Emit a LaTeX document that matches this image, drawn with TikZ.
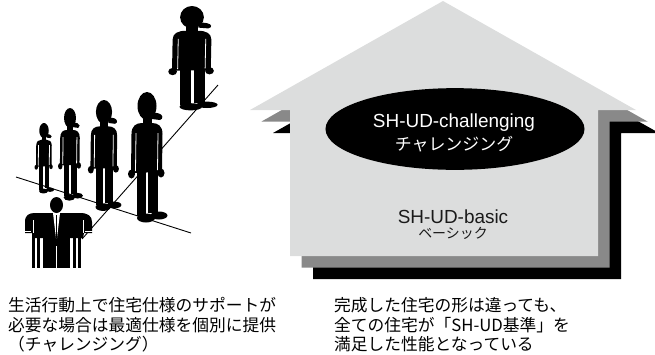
\documentclass[tikz,border=0pt]{standalone}
\usepackage{fontspec}
\usetikzlibrary{shapes.geometric}
\setmainfont{Liberation Sans}
\newfontfamily\cjk{Noto Sans CJK JP}
\definecolor{houselight}{HTML}{DCDDDD}
\definecolor{housemid}{HTML}{898989}
\definecolor{textdark}{HTML}{1A1A1A}
\tikzset{
  % one house outline, peak at the origin of the pic
  housebody/.pic={
    \fill (0,0) -- (193,109) -- (155,109) -- (155,255) -- (-153,255)
      -- (-153,109) -- (-193,109) -- cycle;
  },
  % a standing figure with a cap, head top at the origin, 130 units tall
  person/.pic={
    \fill (-10,76) rectangle (-1.2,124);
    \fill (1.2,76) rectangle (10.5,121);
    \fill (-1,126) ellipse [x radius=9, y radius=4.5];
    \fill (12,123.5) ellipse [x radius=8.5, y radius=4];
    \fill (-15.5,42) .. controls (-15.5,34) and (-11,31) .. (-5,31) -- (5,31)
      .. controls (11,31) and (15.5,34) .. (15.5,42) -- (15,80) -- (-16,81) -- cycle;
    \fill (-4.5,24) rectangle (4.5,33);
    \fill (0,14) ellipse [x radius=9.5, y radius=14];
    \fill (5,20) -- (12,21.5) .. controls (16,22.5) and (16.5,27) .. (13,28)
      -- (5,27) -- cycle;
    \draw[white, line width=0.8] (-11,41) -- (-11.5,79);
    \draw[white, line width=0.8] (11,41) -- (10.5,78);
    \fill (-15.5,82) ellipse [x radius=3.5, y radius=4.5];
    \fill (14,81) ellipse [x radius=3.5, y radius=4.5];
  },
  caption/.style={font=\cjk\fontsize{16.8}{19.6}\selectfont, anchor=base west, inner sep=0pt},
}
\begin{document}
\begin{tikzpicture}[x=1bp, y=-1bp]
  \useasboundingbox (0,0) rectangle (655,354);
  \clip (0,0) rectangle (655,354);

  % stacked houses, back to front
  \pic[black] at (466,24) {housebody};
  \pic[housemid] at (454.5,12.5) {housebody};
  \pic[houselight] at (443,1) {housebody};

  \node (challenge) [ellipse, fill=black, minimum width=260, minimum height=82, inner sep=0pt]
    at (455,129) {};
  \node (challengeEn) [anchor=base, text=white, font=\fontsize{19}{22}\selectfont, inner sep=0pt]
    at (454,127) {SH-UD-challenging};
  \node (challengeJa) [anchor=base, text=white, font=\cjk\fontsize{17}{20}\selectfont, inner sep=0pt]
    at (454,150) {チャレンジング};
  \node (basicEn) [anchor=base, text=textdark, font=\fontsize{19}{22}\selectfont, inner sep=0pt]
    at (453,223) {SH-UD-basic};
  \node (basicJa) [anchor=base, text=textdark, font=\cjk\fontsize{14}{17}\selectfont, inner sep=0pt]
    at (453,238) {ベーシック};

  % the two guide lines under the figures
  \coordinate (rowA) at (16,177);
  \coordinate (rowB) at (191,233);
  \coordinate (riseA) at (82,239);
  \coordinate (riseB) at (218,85);
  \draw[line width=0.9] (rowA) -- (rowB);
  \draw[line width=0.9] (riseA) -- (riseB);

  % standing figures, growing along the line
  \pic[xscale=0.5, yscale=0.54] at (44,123) {person};
  \pic[xscale=0.63, yscale=0.71] at (70,108) {person};
  \pic[xscale=0.85, yscale=0.85] at (104,100) {person};
  \pic at (147,92) {person};
  \pic[xscale=1.25, yscale=0.8] at (192,6) {person};

  % wheelchair user
  \fill (32,232) rectangle (35,268);
  \fill (37,232) rectangle (40,268);
  \fill (73,232) rectangle (76,268);
  \fill (78,232) rectangle (81,268);
  \fill (43,235) rectangle (70,268);
  \draw[white, line width=0.8] (56.5,246) -- (56.5,268);
  \fill (25,233) -- (25,222) .. controls (25,215) and (29,213) .. (35,213)
    -- (80,213) .. controls (88,213) and (92,216) .. (92,222) -- (92,233)
    -- (84,233) -- (83,238) -- (33,238) -- (33,233) -- cycle;
  \draw[white, line width=0.8] (33,220) -- (33,233);
  \draw[white, line width=0.8] (83,220) -- (83,233);
  \draw[white, line width=1] (24,231) -- (31,231);
  \draw[white, line width=1] (85,231) -- (93,231);
  \fill[white] (53,213) -- (60,213) -- (57,238) -- (56,238) -- cycle;
  \draw[line width=1.1] (56.5,215) -- (56.5,238);
  \fill (56.5,205) ellipse [x radius=6.5, y radius=8];

  % captions
  \node (leftA) [caption] at (8,311) {生活行動上で住宅仕様のサポートが};
  \node (leftB) [caption] at (8,331) {必要な場合は最適仕様を個別に提供};
  \node (leftC) [caption] at (8,350) {（チャレンジング）};
  \node (rightA) [caption] at (334,311) {完成した住宅の形は違っても、};
  \node (rightB) [caption] at (334,331) {全ての住宅が「SH-UD基準」を};
  \node (rightC) [caption] at (334,350) {満足した性能となっている};
\end{tikzpicture}
\end{document}
